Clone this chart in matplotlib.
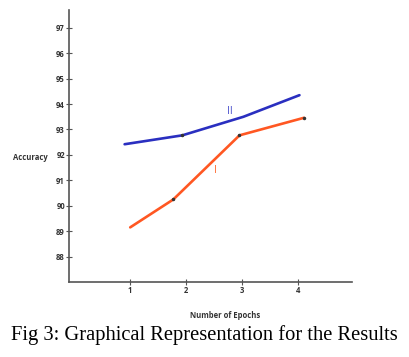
import matplotlib
matplotlib.use("Agg")
import matplotlib.pyplot as plt

plt.rcParams["font.family"] = ["Open Sans", "DejaVu Sans"]

# values
epochs_1 = [1.0, 1.77, 2.95, 4.1]
accuracy_1 = [89.15, 90.25, 92.77, 93.46]
epochs_2 = [0.9, 1.93, 3.02, 4.02]
accuracy_2 = [92.42, 92.77, 93.5, 94.35]
y_ticks = [88, 89, 90, 91, 92, 93, 94, 95, 96, 97]
x_ticks = [1, 2, 3, 4]

fig = plt.figure(figsize=(4.09, 3.57), dpi=100)
ax = fig.add_axes([0.169, 0.21, 0.692, 0.762])

ax.plot(epochs_2, accuracy_2, color="#2a2fc0", lw=1.9, solid_capstyle="round")
ax.plot(epochs_1, accuracy_1, color="#ff5722", lw=1.9, solid_capstyle="round")
ax.plot(epochs_1[1:], accuracy_1[1:], ls="none", marker="o", ms=1.5, color="#333333")
ax.plot(epochs_2[1:2], accuracy_2[1:2], ls="none", marker="o", ms=1.5, color="#333333")

ax.text(2.77, 93.62, "II", color="#4a50cc", fontsize=7.5, ha="center")
ax.text(2.52, 91.3, "I", color="#ff6a30", fontsize=7.5, ha="center")

ax.set_xlim(-0.09, 4.96)
ax.set_ylim(87, 97.7)
ax.set_xticks(x_ticks)
ax.set_yticks(y_ticks)
ax.spines["top"].set_visible(False)
ax.spines["right"].set_visible(False)
for s in ["left", "bottom"]:
    ax.spines[s].set_color("#555555")
    ax.spines[s].set_linewidth(1.2)
ax.tick_params(direction="inout", length=4, width=0.8, color="#555555",
               labelsize=5.5, pad=1)
for lab in ax.get_xticklabels() + ax.get_yticklabels():
    lab.set_fontweight("bold")
    lab.set_color("#333333")

fig.text(0.074, 0.558, "Accuracy", fontsize=5.5, fontweight="bold", color="#333333",
         ha="center", va="center")
fig.text(0.55, 0.117, "Number of Epochs", fontsize=5.5, fontweight="bold",
         color="#333333", ha="center", va="center")
fig.text(0.5, 0.062, "Fig 3: Graphical Representation for the Results",
         family="Liberation Serif", fontsize=14.8, ha="center", va="center")

plt.savefig("out.png", dpi=100)
